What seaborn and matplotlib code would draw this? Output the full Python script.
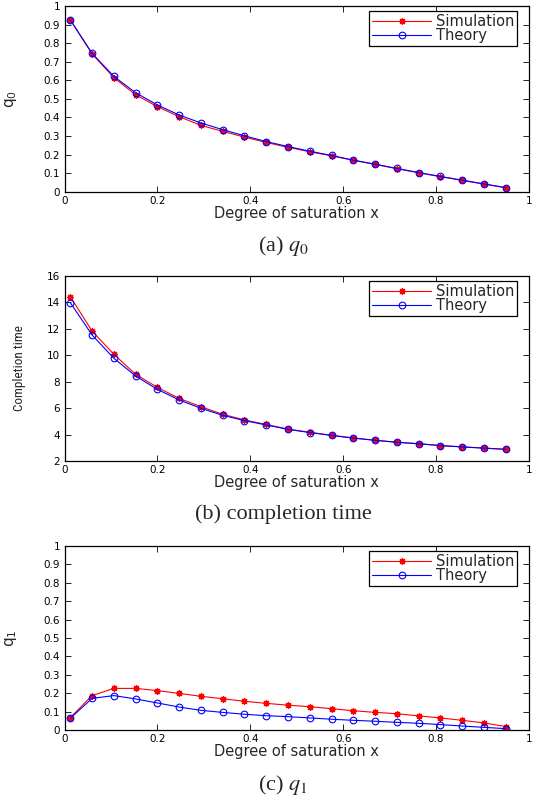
import matplotlib
matplotlib.use("Agg")
import matplotlib.pyplot as plt
from matplotlib import font_manager
import seaborn as sns
import pandas as pd

# ---------------- data ----------------
x_saturation = [0.0125, 0.0594, 0.1063, 0.1531, 0.2, 0.2469, 0.2938, 0.3406,
                0.3875, 0.4344, 0.4813, 0.5281, 0.575, 0.6219, 0.6688, 0.7156,
                0.7625, 0.8094, 0.8563, 0.9031, 0.95]

q0_sim = [0.925, 0.742, 0.614, 0.522, 0.458, 0.404, 0.357, 0.325, 0.294, 0.265,
          0.239, 0.215, 0.193, 0.169, 0.147, 0.124, 0.102, 0.081, 0.061, 0.041, 0.021]
q0_theory = [0.925, 0.745, 0.621, 0.533, 0.467, 0.413, 0.370, 0.334, 0.301, 0.270,
             0.243, 0.218, 0.195, 0.170, 0.148, 0.125, 0.103, 0.082, 0.062, 0.042, 0.022]

ct_sim = [14.41, 11.82, 10.06, 8.55, 7.56, 6.73, 6.10, 5.53, 5.10, 4.76, 4.41,
          4.17, 3.94, 3.74, 3.57, 3.42, 3.31, 3.17, 3.07, 2.98, 2.88]
ct_theory = [13.96, 11.52, 9.76, 8.42, 7.41, 6.61, 5.98, 5.45, 5.05, 4.72, 4.39,
             4.15, 3.93, 3.73, 3.56, 3.41, 3.30, 3.16, 3.06, 2.97, 2.88]

q1_sim = [0.069, 0.188, 0.227, 0.227, 0.215, 0.200, 0.184, 0.171, 0.157, 0.146,
          0.136, 0.128, 0.117, 0.106, 0.097, 0.090, 0.078, 0.067, 0.054, 0.040, 0.020]
q1_theory = [0.065, 0.173, 0.188, 0.170, 0.148, 0.126, 0.108, 0.097, 0.087, 0.079,
             0.074, 0.067, 0.060, 0.054, 0.049, 0.043, 0.038, 0.031, 0.023, 0.016, 0.009]

x_ticks = [0, 0.2, 0.4, 0.6, 0.8, 1]
x_ticklabels = ["0", "0.2", "0.4", "0.6", "0.8", "1"]
q_ticks = [0, 0.1, 0.2, 0.3, 0.4, 0.5, 0.6, 0.7, 0.8, 0.9, 1]
q_ticklabels = ["0", "0.1", "0.2", "0.3", "0.4", "0.5", "0.6", "0.7", "0.8", "0.9", "1"]
ct_ticks = [2, 4, 6, 8, 10, 12, 14, 16]
ct_ticklabels = ["2", "4", "6", "8", "10", "12", "14", "16"]

series_names = ["Simulation", "Theory"]
xlabel_text = "Degree of saturation x"
captions = [r"(a) $q_0$", r"(b) completion time", r"(c) $q_1$"]

# ---------------- style ----------------
sns.set_style("ticks")
plt.rcParams["font.family"] = ["DejaVu Sans"]
plt.rcParams["mathtext.fontset"] = "stix"

# pick a condensed sans font for the "Completion time" label if one is installed
_fonts = font_manager.fontManager.ttflist
_names = {f.name for f in _fonts}
if "Liberation Sans Narrow" in _names:
    narrow_kw = dict(family=["Liberation Sans Narrow"], fontsize=10.5)
elif "Roboto Condensed" in _names:
    narrow_kw = dict(family=["Roboto Condensed"], fontsize=9.5)
else:
    narrow_kw = dict(family=["Liberation Sans", "DejaVu Sans"], fontsize=7.6)

fig = plt.figure(figsize=(5.33, 8), dpi=100)

W, H = 533.0, 800.0
left_px, right_px = 64.5, 529.0


def make_axes(top_px, bottom_px):
    return fig.add_axes([left_px / W, 1 - bottom_px / H,
                         (right_px - left_px) / W, (bottom_px - top_px) / H])


def draw_panel(ax, sim, theory, yticks, yticklabels, ylabel, ylabel_kw, ylabel_x):
    df = pd.DataFrame({"x": x_saturation, "sim": sim, "theory": theory})
    sns.lineplot(data=df, x="x", y="sim", ax=ax, color="red", linewidth=0.8,
                 marker=(8, 2, 0), markersize=4.8, markeredgecolor="red",
                 markeredgewidth=0.9, label=series_names[0], legend=False)
    sns.lineplot(data=df, x="x", y="theory", ax=ax, color="blue", linewidth=0.8,
                 marker="o", markersize=4.8, markerfacecolor="none",
                 markeredgecolor="blue", markeredgewidth=0.8,
                 label=series_names[1], legend=False)
    ax.set_xlim(0, 1)
    ax.set_ylim(yticks[0], yticks[-1])
    ax.set_xticks(x_ticks)
    ax.set_xticklabels(x_ticklabels)
    ax.set_yticks(yticks)
    ax.set_yticklabels(yticklabels)
    ax.tick_params(direction="in", length=4, width=0.6, top=True, right=True,
                   labelsize=7.5, pad=3, colors="black")
    for s in ax.spines.values():
        s.set_visible(True)
        s.set_linewidth(0.9)
        s.set_color("black")
    ax.set_xlabel(xlabel_text, fontsize=10.5, labelpad=0)
    ax.set_ylabel(ylabel, **ylabel_kw)
    ax.yaxis.set_label_coords(ylabel_x, 0.5)
    leg = ax.legend(loc="upper right", bbox_to_anchor=(0.975, 0.973),
                    borderaxespad=0, frameon=True, fancybox=False,
                    edgecolor="black", framealpha=1, fontsize=10.5,
                    handlelength=4.0, handletextpad=0.35, borderpad=0.22,
                    labelspacing=-0.08)
    leg.get_frame().set_linewidth(0.9)
    ax.grid(False)


ax_a = make_axes(6, 191.7)
draw_panel(ax_a, q0_sim, q0_theory, q_ticks, q_ticklabels,
           r"$\mathregular{q_0}$", dict(fontsize=11), -0.098)

ax_b = make_axes(275.7, 461)
draw_panel(ax_b, ct_sim, ct_theory, ct_ticks, ct_ticklabels,
           "Completion time", narrow_kw, -0.082)

ax_c = make_axes(545.7, 730.3)
draw_panel(ax_c, q1_sim, q1_theory, q_ticks, q_ticklabels,
           r"$\mathregular{q_1}$", dict(fontsize=11), -0.098)

caption_y = [246, 514, 785]
for txt, ypx in zip(captions, caption_y):
    fig.text(283 / W, 1 - ypx / H, txt, ha="center", va="center",
             fontsize=16, family=["Liberation Serif", "DejaVu Serif"])

fig.savefig("out.png", dpi=100)
